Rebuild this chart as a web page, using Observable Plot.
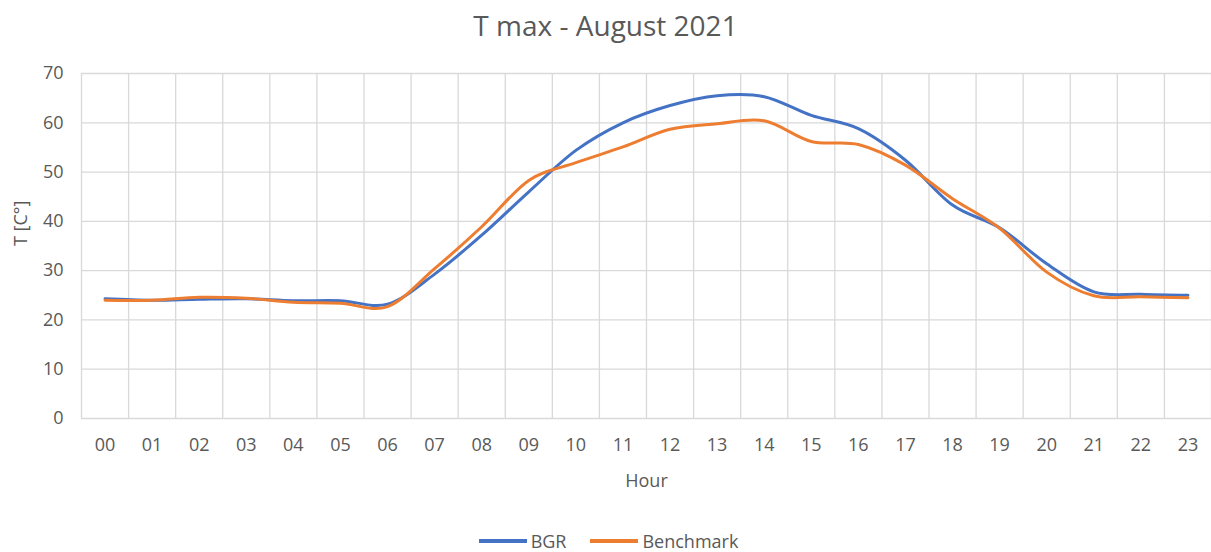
<!DOCTYPE html>
<html><head><meta charset="utf-8">
<script src="https://cdn.jsdelivr.net/npm/d3@7"></script>
<script src="https://cdn.jsdelivr.net/npm/@observablehq/plot@0.6"></script>
<style>
body{margin:0;background:#fff;font-family:"Open Sans",sans-serif;color:#595959;}
#wrap{width:1211px;height:552px;overflow:hidden;}
#title{height:60px;text-align:center;font-size:28px;line-height:28px;padding-top:11px;box-sizing:border-box;}
#legend{height:62px;display:flex;justify-content:center;align-items:flex-start;padding-top:40px;padding-left:6px;box-sizing:border-box;font-size:18px;line-height:22px;}
.item{display:flex;align-items:center;margin:0 12px;}
.sw{display:inline-block;width:48px;height:4px;margin-right:4px;}
</style></head>
<body><div id="wrap">
<div id="title">T max - August 2021</div>
<div id="chart"></div>
<div id="legend"></div>
</div>
<script>
const hours = ["00","01","02","03","04","05","06","07","08","09","10","11","12","13","14","15","16","17","18","19","20","21","22","23"];
const bgr = [24.3,24.0,24.2,24.3,23.9,23.9,23.2,29.3,37.2,46.0,54.4,60.0,63.5,65.5,65.3,61.5,58.8,52.4,43.3,38.7,31.4,25.7,25.2,25.0];
const benchmark = [24.0,24.0,24.6,24.4,23.6,23.4,22.7,30.4,38.9,48.3,51.9,55.1,58.7,59.8,60.4,56.2,55.6,51.4,44.6,38.6,29.7,24.9,24.7,24.5];
const seriesNames = ["BGR","Benchmark"];
const seriesColors = ["#4472C4","#ED7D31"];
const yTicks = [0,10,20,30,40,50,60,70];

const data = [];
hours.forEach((h,i)=>{
  data.push({hour:i, value:bgr[i], series:"BGR"});
  data.push({hour:i, value:benchmark[i], series:"Benchmark"});
});
const idx = hours.map((h,i)=>i);
const bounds = hours.map((h,i)=>i-0.5).concat([hours.length-0.5]);

const chart = Plot.plot({
  width:1211, height:430,
  marginLeft:81, marginRight:0, marginTop:13, marginBottom:72,
  style:{fontFamily:'"Open Sans",sans-serif', fontSize:"18px", color:"#595959", background:"#fff"},
  x:{type:"linear", domain:[-0.5, hours.length-0.5]},
  y:{domain:[0,70]},
  color:{domain:seriesNames, range:seriesColors},
  marks:[
    Plot.ruleY(yTicks,{stroke:"#d9d9d9", strokeWidth:1.3}),
    Plot.ruleX(bounds,{stroke:"#d9d9d9", strokeWidth:1.3}),
    Plot.axisY(yTicks,{tickSize:0, tickPadding:18, label:null, fill:"#595959"}),
    Plot.axisX(idx,{tickSize:0, tickPadding:20, tickFormat:i=>hours[i], label:null, fill:"#595959"}),
    Plot.line(data,{x:"hour", y:"value", stroke:"series", z:"series", curve:"cardinal", tension:0, strokeWidth:3}),
    Plot.text(["Hour"],{frameAnchor:"bottom", dy:68, fill:"#595959", fontSize:18}),
    Plot.text(["T [C°]"],{frameAnchor:"left", dx:-60, rotate:-90, fill:"#595959", fontSize:18})
  ]
});
document.getElementById("chart").appendChild(chart);

const legend = document.getElementById("legend");
seriesNames.forEach((n,i)=>{
  const it = document.createElement("div"); it.className="item";
  const sw = document.createElement("span"); sw.className="sw"; sw.style.background=seriesColors[i];
  const tx = document.createElement("span"); tx.textContent=n;
  it.appendChild(sw); it.appendChild(tx); legend.appendChild(it);
});
</script>
</body></html>
